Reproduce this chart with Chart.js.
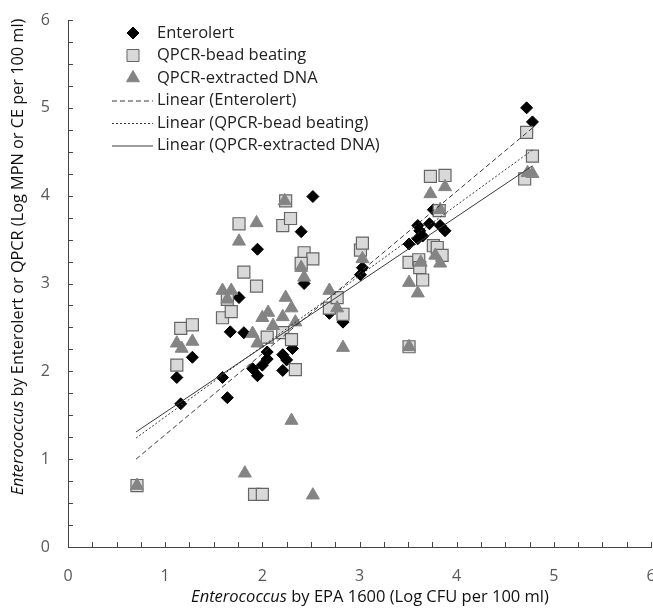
<!DOCTYPE html>
<html>
<head>
<meta charset="utf-8">
<script src="https://cdn.jsdelivr.net/npm/chart.js@4/dist/chart.umd.min.js"></script>
<style>
  html, body { margin: 0; padding: 0; background: #fff; }
</style>
</head>
<body>
<canvas id="chart" width="653" height="608"></canvas>
<script>
const enterolertX = [1.16, 1.12, 1.28, 1.59, 1.64, 1.67, 1.76, 1.81, 1.90, 1.95, 1.95, 2.00, 2.05, 2.05, 2.21, 2.21, 2.25, 2.31, 2.40, 2.43, 2.52, 2.69, 2.83, 3.01, 3.03, 3.51, 3.60, 3.60, 3.62, 3.65, 3.72, 3.76, 3.83, 3.88, 4.72, 4.78];
const enterolertY = [1.63, 1.93, 2.16, 1.93, 1.70, 2.45, 2.84, 2.44, 2.03, 1.95, 3.39, 2.07, 2.22, 2.14, 2.19, 2.01, 2.13, 2.26, 3.59, 3.00, 3.99, 2.66, 2.56, 3.10, 3.18, 3.45, 3.51, 3.66, 3.60, 3.54, 3.68, 3.84, 3.66, 3.60, 5.00, 4.84];

const beadX = [0.71, 1.12, 1.16, 1.28, 1.59, 1.68, 1.64, 1.81, 1.94, 1.76, 1.92, 2.00, 2.05, 2.21, 2.30, 2.34, 2.24, 2.21, 2.29, 2.43, 2.52, 2.40, 2.69, 2.77, 2.83, 3.01, 3.03, 3.51, 3.51, 3.61, 3.62, 3.65, 3.73, 3.88, 3.82, 3.76, 3.80, 3.85, 4.70, 4.72, 4.78];
const beadY = [0.70, 2.07, 2.49, 2.53, 2.61, 2.68, 2.82, 3.13, 2.97, 3.68, 0.60, 0.60, 2.39, 2.44, 2.36, 2.02, 3.94, 3.66, 3.74, 3.35, 3.28, 3.23, 2.72, 2.84, 2.65, 3.38, 3.46, 2.28, 3.24, 3.27, 3.18, 3.04, 4.22, 4.23, 3.83, 3.43, 3.41, 3.32, 4.19, 4.72, 4.45];

const dnaX = [0.71, 1.12, 1.17, 1.28, 1.59, 1.68, 1.64, 1.76, 1.82, 1.90, 1.94, 1.95, 2.00, 2.06, 2.11, 2.21, 2.23, 2.24, 2.30, 2.30, 2.34, 2.40, 2.43, 2.52, 2.69, 2.77, 2.83, 3.03, 3.51, 3.51, 3.60, 3.63, 3.78, 3.83, 3.73, 3.88, 3.83, 4.73, 4.78];
const dnaY = [0.70, 2.32, 2.26, 2.34, 2.92, 2.92, 2.82, 3.48, 0.84, 2.43, 3.69, 2.32, 2.61, 2.67, 2.52, 2.62, 3.94, 2.84, 2.72, 1.44, 2.56, 3.18, 3.07, 0.59, 2.92, 2.72, 2.27, 3.28, 2.28, 3.01, 2.89, 3.24, 3.32, 3.23, 4.02, 4.10, 3.84, 4.26, 4.25];

// trend line end points
const trendX = [0.70, 4.78];
const enterolertTrend = [1.00, 4.77];
const beadTrend = [1.24, 4.52];
const dnaTrend = [1.31, 4.34];

const xTicks = [0, 1, 2, 3, 4, 5, 6];
const yTicks = [0, 1, 2, 3, 4, 5, 6];

const AXIS = '#444';
const TICK_TEXT = '#595959';
const FONT = '"Open Sans", "DejaVu Sans", sans-serif';

const pts = (xs, ys) => xs.map((x, i) => ({ x, y: ys[i] }));

const LEGEND = [
  { label: 'Enterolert', point: { pointStyle: 'rectRot', radius: 6 }, fill: '#000', stroke: '#000' },
  { label: 'QPCR-bead beating', point: { pointStyle: 'rect', radius: 8.5 }, fill: '#d9d9d9', stroke: '#666' },
  { label: 'QPCR-extracted DNA', point: { pointStyle: 'triangle', radius: 7.5 }, fill: '#848484', stroke: '#848484' },
  { label: 'Linear (Enterolert)', dash: [5, 3] },
  { label: 'Linear (QPCR-bead beating)', dash: [2, 2] },
  { label: 'Linear (QPCR-extracted DNA)', dash: [] },
];

function drawParts(ctx, parts, size) {
  let total = 0;
  parts.forEach(p => {
    ctx.font = `${p.italic ? 'italic ' : ''}${size}px ${FONT}`;
    p.w = ctx.measureText(p.text).width;
    total += p.w;
  });
  let cx = -total / 2;
  parts.forEach(p => {
    ctx.font = `${p.italic ? 'italic ' : ''}${size}px ${FONT}`;
    ctx.fillText(p.text, cx, 0);
    cx += p.w;
  });
}

const decorations = {
  id: 'decorations',
  afterDraw(chart) {
    const { ctx, scales: { x, y } } = chart;
    ctx.save();

    // inside minor ticks
    ctx.strokeStyle = AXIS;
    ctx.lineWidth = 1;
    ctx.beginPath();
    for (let v = 0.25; v <= 6; v += 0.25) {
      const px = Math.round(x.getPixelForValue(v)) + 0.5;
      ctx.moveTo(px, y.bottom);
      ctx.lineTo(px, y.bottom - 5);
      const py = Math.round(y.getPixelForValue(v)) + 0.5;
      ctx.moveTo(x.left, py);
      ctx.lineTo(x.left + 5, py);
    }
    ctx.stroke();

    // legend
    const lx = 133, tx = 157;
    let ly = 33;
    ctx.textBaseline = 'middle';
    ctx.textAlign = 'left';
    LEGEND.forEach(item => {
      if (item.point) {
        ctx.fillStyle = item.fill;
        ctx.strokeStyle = item.stroke;
        ctx.lineWidth = 1;
        ctx.setLineDash([]);
        Chart.helpers.drawPoint(ctx, { ...item.point, rotation: 0, borderWidth: 1 }, lx, ly);
      } else {
        ctx.strokeStyle = '#3a3a3a';
        ctx.lineWidth = 1;
        ctx.setLineDash(item.dash);
        ctx.beginPath();
        ctx.moveTo(112, ly + 0.5);
        ctx.lineTo(153, ly + 0.5);
        ctx.stroke();
        ctx.setLineDash([]);
      }
      ctx.fillStyle = '#222';
      ctx.font = `16.5px ${FONT}`;
      ctx.fillText(item.label, tx, ly);
      ly += 22.5;
    });

    // axis titles
    ctx.fillStyle = '#111';
    ctx.textAlign = 'left';
    ctx.textBaseline = 'middle';
    ctx.save();
    ctx.translate(370, 597);
    drawParts(ctx, [{ text: 'Enterococcus', italic: true }, { text: ' by EPA 1600 (Log CFU per 100 ml)' }], 16.5);
    ctx.restore();

    ctx.save();
    ctx.translate(18, 257);
    ctx.rotate(-Math.PI / 2);
    drawParts(ctx, [{ text: 'Enterococcus', italic: true }, { text: ' by Enterolert or QPCR (Log MPN or CE per 100 ml)' }], 16.3);
    ctx.restore();

    ctx.restore();
  }
};

new Chart(document.getElementById('chart'), {
  type: 'scatter',
  data: {
    datasets: [
      {
        label: 'Linear (Enterolert)', type: 'line', order: 0,
        data: pts(trendX, enterolertTrend),
        borderColor: '#3a3a3a', borderWidth: 1, borderDash: [5, 3], pointRadius: 0, fill: false,
      },
      {
        label: 'Linear (QPCR-bead beating)', type: 'line', order: 0,
        data: pts(trendX, beadTrend),
        borderColor: '#3a3a3a', borderWidth: 1, borderDash: [2, 2], pointRadius: 0, fill: false,
      },
      {
        label: 'Linear (QPCR-extracted DNA)', type: 'line', order: 0,
        data: pts(trendX, dnaTrend),
        borderColor: '#3a3a3a', borderWidth: 1, pointRadius: 0, fill: false,
      },
      {
        label: 'QPCR-extracted DNA', order: 1,
        data: pts(dnaX, dnaY),
        pointStyle: 'triangle', pointRadius: 7.5, pointHoverRadius: 7.5,
        backgroundColor: '#848484', borderColor: '#848484', borderWidth: 1,
      },
      {
        label: 'QPCR-bead beating', order: 2,
        data: pts(beadX, beadY),
        pointStyle: 'rect', pointRadius: 8.5, pointHoverRadius: 8.5,
        backgroundColor: '#d9d9d9', borderColor: '#666', borderWidth: 1.2,
      },
      {
        label: 'Enterolert', order: 3,
        data: pts(enterolertX, enterolertY),
        pointStyle: 'rectRot', pointRadius: 6, pointHoverRadius: 6,
        backgroundColor: '#000', borderColor: '#000', borderWidth: 1,
      },
    ],
  },
  options: {
    responsive: false,
    animation: false,
    events: [],
    layout: { autoPadding: false, padding: { top: 20, right: 2, left: 0, bottom: 0 } },
    plugins: { legend: { display: false }, tooltip: { enabled: false } },
    scales: {
      x: {
        type: 'linear', min: 0, max: 6,
        afterBuildTicks: s => { s.ticks = xTicks.map(v => ({ value: v })); },
        afterFit: s => { s.height = 61; s.paddingLeft = 0; s.paddingRight = 0; },
        grid: { display: true, drawOnChartArea: false, drawTicks: false },
        border: { display: true, color: AXIS, width: 1 },
        ticks: { color: TICK_TEXT, padding: 20, maxRotation: 0, autoSkip: false, font: { size: 16, family: FONT } },
      },
      y: {
        type: 'linear', min: 0, max: 6,
        afterBuildTicks: s => { s.ticks = yTicks.map(v => ({ value: v })); },
        afterFit: s => { s.width = 68; s.paddingTop = 0; s.paddingBottom = 0; },
        grid: { display: true, drawOnChartArea: false, drawTicks: false },
        border: { display: true, color: AXIS, width: 1 },
        ticks: { color: TICK_TEXT, padding: 18, autoSkip: false, font: { size: 16, family: FONT } },
      },
    },
  },
  plugins: [decorations],
});
</script>
</body>
</html>
